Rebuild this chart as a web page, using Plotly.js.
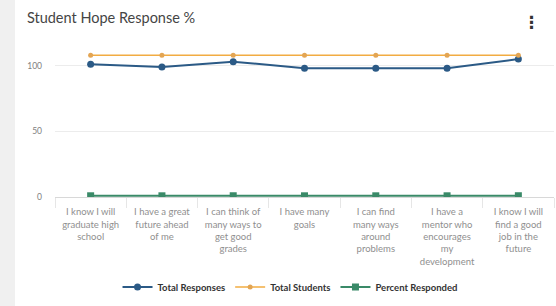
<!DOCTYPE html>
<html>
<head>
<meta charset="utf-8">
<script src="https://cdn.plot.ly/plotly-3.0.1.min.js"></script>
<style>
  html, body { margin: 0; padding: 0; background: #f0f0f0; width: 556px; height: 306px; overflow: hidden; }
  #chart { position: absolute; left: 15px; top: 0; width: 541px; height: 306px; background: #ffffff; }
</style>
</head>
<body>
<div id="chart"></div>
<script>
const categories = [
  "I know I will<br>graduate high<br>school",
  "I have a great<br>future ahead<br>of me",
  "I can think of<br>many ways to<br>get good<br>grades",
  "I have many<br>goals",
  "I can find<br>many ways<br>around<br>problems",
  "I have a<br>mentor who<br>encourages<br>my<br>development",
  "I know I will<br>find a good<br>job in the<br>future"
];
const totalResponses = [101, 99, 103, 98, 98, 98, 105];
const totalStudents = [108, 108, 108, 108, 108, 108, 108];
const percentResponded = [0.93, 0.91, 0.95, 0.91, 0.91, 0.91, 0.97];
const yTicks = [0, 50, 100];

const font = "Lato, 'Open Sans', sans-serif";

const traces = [
  {
    name: "Total Responses", x: categories, y: totalResponses, type: "scatter", mode: "lines+markers",
    line: { color: "#2b5a86", width: 2 }, marker: { color: "#2b5a86", size: 7, symbol: "circle" }
  },
  {
    name: "Total Students", x: categories, y: totalStudents, type: "scatter", mode: "lines+markers",
    line: { color: "#f2ac42", width: 1.5 }, marker: { color: "#e3a553", size: 5, symbol: "circle" }
  },
  {
    name: "Percent Responded", x: categories, y: percentResponded, type: "scatter", mode: "lines+markers",
    line: { color: "#3a8a68", width: 2 }, marker: { color: "#3a8a68", size: 7, symbol: "square" }
  }
];

const layout = {
  width: 541, height: 306,
  margin: { l: 40, r: 2, t: 42, b: 109 },
  paper_bgcolor: "#ffffff", plot_bgcolor: "#ffffff",
  font: { family: font, color: "#888" },
  title: {
    text: "Student Hope Response %",
    font: { family: font, size: 14.5, color: "#454545" },
    xref: "container", x: 0.022, xanchor: "left",
    yref: "container", y: 0.942, yanchor: "middle"
  },
  showlegend: true,
  legend: {
    orientation: "h", x: 0.471, xanchor: "center", y: -0.58, yanchor: "middle",
    font: { family: font, size: 9.5, color: "#333", weight: "bold" },
    itemwidth: 30, tracegroupgap: 0
  },
  xaxis: {
    type: "category", range: [-0.5, 6.5],
    showgrid: false, zeroline: false,
    showline: true, linecolor: "#d8d8d8", linewidth: 1,
    ticks: "outside", tickson: "boundaries", ticklen: 10, tickcolor: "#e6e6e6",
    tickfont: { family: font, size: 9.5, color: "#8f8f8f" },
    ticklabelstandoff: 6,
    fixedrange: true
  },
  yaxis: {
    range: [0, 118], tickvals: yTicks, ticktext: yTicks.map(String),
    showgrid: true, gridcolor: "#ececec", zeroline: false, showline: false,
    tickfont: { family: font, size: 8.5, color: "#808080" },
    ticklabelstandoff: 12, fixedrange: true
  },
  annotations: [
    {
      text: "⋮", xref: "paper", yref: "paper", x: 0.954, y: 1.131,
      xanchor: "center", yanchor: "middle", showarrow: false,
      font: { family: "DejaVu Sans", size: 17, color: "#333", weight: "bold" }
    }
  ]
};

Plotly.newPlot("chart", traces, layout, { displayModeBar: false, staticPlot: true });
</script>
</body>
</html>
